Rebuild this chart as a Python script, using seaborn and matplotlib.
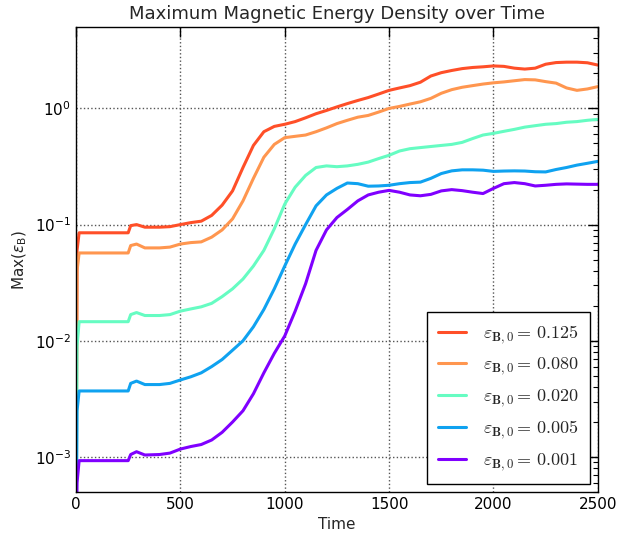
import numpy as np
import pandas as pd
import matplotlib
matplotlib.use("Agg")
import matplotlib.pyplot as plt
from matplotlib.font_manager import FontProperties
import seaborn as sns

time = [0, 5, 15, 250, 262, 290, 330, 400, 450, 500, 550, 600, 650, 700, 750, 800, 850, 900, 950,
        1000, 1050, 1100, 1150, 1200, 1250, 1300, 1350, 1400, 1450, 1500, 1550, 1600, 1650, 1700,
        1750, 1800, 1850, 1900, 1950, 2000, 2050, 2100, 2150, 2200, 2250, 2300, 2350, 2400, 2450, 2500]

eps_0125 = [3e-4, 0.06, 0.085, 0.085, 0.098, 0.1, 0.095, 0.095, 0.096, 0.1, 0.104, 0.107, 0.12, 0.147,
            0.195, 0.31, 0.48, 0.63, 0.7, 0.73, 0.77, 0.83, 0.9, 0.96, 1.03, 1.1, 1.17, 1.24, 1.33,
            1.43, 1.5, 1.57, 1.68, 1.9, 2.03, 2.12, 2.2, 2.25, 2.28, 2.32, 2.3, 2.22, 2.18, 2.22, 2.4,
            2.48, 2.5, 2.5, 2.47, 2.36]
eps_0080 = [2e-4, 0.04, 0.057, 0.057, 0.066, 0.068, 0.063, 0.063, 0.064, 0.068, 0.07, 0.071, 0.078, 0.09,
            0.112, 0.16, 0.25, 0.38, 0.49, 0.56, 0.575, 0.59, 0.63, 0.68, 0.74, 0.79, 0.84, 0.87, 0.93,
            1.0, 1.04, 1.09, 1.14, 1.22, 1.35, 1.45, 1.52, 1.57, 1.62, 1.66, 1.69, 1.73, 1.77, 1.76, 1.7,
            1.65, 1.5, 1.43, 1.47, 1.54]
eps_0020 = [1e-4, 0.009, 0.0146, 0.0146, 0.0168, 0.0175, 0.0165, 0.0165, 0.0168, 0.018, 0.0188, 0.0196,
            0.021, 0.024, 0.028, 0.034, 0.044, 0.06, 0.092, 0.15, 0.21, 0.265, 0.31, 0.32, 0.315, 0.32,
            0.33, 0.345, 0.37, 0.395, 0.43, 0.45, 0.46, 0.47, 0.48, 0.49, 0.51, 0.55, 0.59, 0.61, 0.635,
            0.66, 0.69, 0.71, 0.73, 0.74, 0.76, 0.77, 0.79, 0.805]
eps_0005 = [1e-4, 0.0025, 0.0037, 0.0037, 0.0043, 0.0045, 0.0042, 0.0042, 0.0043, 0.0046, 0.0049, 0.0053,
            0.006, 0.0069, 0.0083, 0.01, 0.0132, 0.0186, 0.028, 0.044, 0.068, 0.1, 0.145, 0.18, 0.205,
            0.228, 0.225, 0.214, 0.215, 0.218, 0.225, 0.23, 0.232, 0.25, 0.275, 0.29, 0.296, 0.296, 0.294,
            0.287, 0.289, 0.29, 0.289, 0.285, 0.284, 0.298, 0.31, 0.325, 0.337, 0.35]
eps_0001 = [1e-4, 0.0006, 0.00093, 0.00093, 0.00105, 0.00111, 0.00104, 0.00105, 0.00108, 0.00117, 0.00123,
            0.00128, 0.0014, 0.00163, 0.002, 0.0025, 0.0035, 0.0053, 0.0078, 0.011, 0.018, 0.031, 0.06,
            0.09, 0.115, 0.135, 0.16, 0.18, 0.19, 0.197, 0.19, 0.18, 0.177, 0.182, 0.195, 0.2, 0.196, 0.19,
            0.185, 0.205, 0.225, 0.23, 0.225, 0.215, 0.218, 0.222, 0.224, 0.223, 0.222, 0.222]

labels = [r'$\varepsilon_{\mathbf{B},0}=\,0.125$', r'$\varepsilon_{\mathbf{B},0}=\,0.080$',
          r'$\varepsilon_{\mathbf{B},0}=\,0.020$', r'$\varepsilon_{\mathbf{B},0}=\,0.005$',
          r'$\varepsilon_{\mathbf{B},0}=\,0.001$']
series = [eps_0125, eps_0080, eps_0020, eps_0005, eps_0001]
colors = ['#ff4f28', '#ff964f', '#66fcc2', '#0fa2f0', '#8000ff']

frames = []
for lab, vals in zip(labels, series):
    frames.append(pd.DataFrame({'Time': time, 'value': vals, 'series': lab}))
df = pd.concat(frames, ignore_index=True)

sns.set_style('white')
plt.rcParams['font.family'] = ['DejaVu Sans']

fig = plt.figure(figsize=(6.36, 5.33), dpi=100)
ax = fig.add_axes([0.1195, 0.077, 0.8205, 0.872])
sns.lineplot(data=df, x='Time', y='value', hue='series', hue_order=labels,
             palette=dict(zip(labels, colors)), linewidth=2.2, ax=ax, legend=False)
ax.set_yscale('log')
ax.set_xlim(0, 2500)
ax.set_ylim(5e-4, 5)
ax.set_xticks([0, 500, 1000, 1500, 2000, 2500])
ax.grid(True, which='major', linestyle=':', color='#555555', linewidth=1)
ax.tick_params(which='both', direction='in', top=True, right=True, colors='black', labelsize=11)
ax.tick_params(which='major', length=7, width=1)
ax.tick_params(which='minor', length=3.5, width=0.8)
for s in ax.spines.values():
    s.set_color('black')
    s.set_linewidth(1)
ax.set_xlabel('Time', fontsize=11)
ax.set_ylabel(r'Max($\varepsilon_{\rm B}$)', fontsize=11)
ax.set_title('Maximum Magnetic Energy Density over Time', fontsize=13)

handles = [plt.Line2D([], [], color=c, linewidth=2.2) for c in colors]
prop = FontProperties(size=13, math_fontfamily='cm')
leg = ax.legend(handles, labels, loc='lower right', prop=prop, fancybox=False,
                edgecolor='black', framealpha=1, labelspacing=0.55, handlelength=1.55,
                borderpad=0.6, handletextpad=0.95, borderaxespad=0.45)
leg.get_frame().set_linewidth(1)

fig.savefig('out.png', dpi=100, facecolor='white')
